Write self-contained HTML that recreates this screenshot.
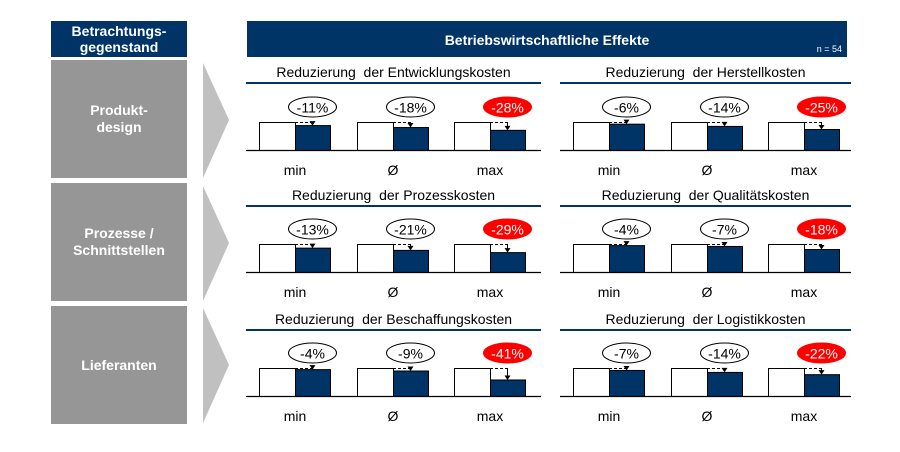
<!DOCTYPE html>
<html><head><meta charset="utf-8"><style>
html,body{margin:0;padding:0;background:#fff;}
svg{display:block;font-family:"Liberation Sans",Arial,sans-serif;}
text{white-space:pre;}
</style></head><body>
<svg width="900" height="452" viewBox="0 0 900 452">
<rect x="51" y="21" width="136" height="36" fill="#003366"/>
<text x="119" y="36" fill="#fff" font-size="14" font-weight="bold" text-anchor="middle">Betrachtungs-</text>
<text x="119" y="52" fill="#fff" font-size="14" font-weight="bold" text-anchor="middle">gegenstand</text>
<rect x="51" y="60" width="136" height="118" fill="#969696"/>
<rect x="51" y="183" width="136" height="118" fill="#969696"/>
<rect x="51" y="306" width="136" height="118" fill="#969696"/>
<text x="119" y="115" fill="#fff" font-size="14" font-weight="bold" text-anchor="middle">Produkt-</text>
<text x="119" y="132" fill="#fff" font-size="14" font-weight="bold" text-anchor="middle">design</text>
<text x="119" y="238" fill="#fff" font-size="14" font-weight="bold" text-anchor="middle">Prozesse /</text>
<text x="119" y="255" fill="#fff" font-size="14" font-weight="bold" text-anchor="middle">Schnittstellen</text>
<text x="119" y="370" fill="#fff" font-size="14" font-weight="bold" text-anchor="middle">Lieferanten</text>
<polygon points="203,63 229,120 203,178" fill="#c0c0c0"/>
<polygon points="203,186 229,243 203,301" fill="#c0c0c0"/>
<polygon points="203,308 229,365 203,423" fill="#c0c0c0"/>
<rect x="247" y="21" width="600" height="36" fill="#003366"/>
<text x="547" y="45" fill="#fff" font-size="14" font-weight="bold" text-anchor="middle">Betriebswirtschaftliche Effekte</text>
<text x="842" y="52" fill="#fff" font-size="9" text-anchor="end">n = 54</text>
<g id="charts"></g>
</svg>
<script>
var S="http://www.w3.org/2000/svg",g=document.getElementById("charts");
function el(t,a,txt){var e=document.createElementNS(S,t);for(var k in a)e.setAttribute(k,a[k]);if(txt!==undefined)e.textContent=txt;g.appendChild(e);return e;}
var rows=[{ty:72,ly:83,b:150},{ty:195,ly:206,b:272},{ty:319,ly:330,b:396}];
var panels=[{x0:246,x1:541,wx:[259,357,454],wb:36,bw:35},{x0:560,x1:851,wx:[573,671,768],wb:36,bw:35}];
var titles=[["Reduzierung  der Entwicklungskosten","Reduzierung  der Herstellkosten"],["Reduzierung  der Prozesskosten","Reduzierung  der Qualitätskosten"],["Reduzierung  der Beschaffungskosten","Reduzierung  der Logistikkosten"]];
var vals=[[[11,18,28],[6,14,25]],[[13,21,29],[4,7,18]],[[4,9,41],[7,14,22]]];
var labs=["min","Ø","max"];
rows.forEach(function(r,ri){panels.forEach(function(p,pi){
 el("text",{x:(p.x0+p.x1)/2,y:r.ty+5,"font-size":"14","text-anchor":"middle",fill:"#000"},titles[ri][pi]);
 el("line",{x1:p.x0,x2:p.x1,y1:r.ly,y2:r.ly,stroke:"#003366","stroke-width":"2"});
 var top=r.b-28;
 for(var i=0;i<3;i++){
  var wx=p.wx[i],bx=wx+p.wb,v=vals[ri][pi][i],h=28*(1-v/100),bt=r.b-h,cx=bx+p.bw/2;
  el("rect",{x:wx+0.5,y:top+0.5,width:p.wb,height:28,fill:"#fff",stroke:"#000","stroke-width":"1"});
  el("rect",{x:bx+0.5,y:bt+0.5,width:p.bw,height:h,fill:"#003366",stroke:"#000","stroke-width":"1"});
  el("line",{x1:bx,x2:cx,y1:top+0.5,y2:top+0.5,stroke:"#000","stroke-width":"1","stroke-dasharray":"3,2"});
  if(bt-top>4){el("line",{x1:cx,x2:cx,y1:top,y2:bt-3,stroke:"#000","stroke-width":"1"});}
  el("polygon",{points:(cx-3)+","+(bt-4)+" "+(cx+3)+","+(bt-4)+" "+cx+","+(bt+0.5),fill:"#000"});
  var ey=r.b-43,red=(i==2);
  el("ellipse",{cx:cx,cy:ey,rx:24,ry:10,fill:red?"#ff0000":"#fff",stroke:red?"#ff0000":"#000","stroke-width":"1"});
  el("text",{x:cx,y:ey+5.5,"font-size":"14","text-anchor":"middle",fill:red?"#fff":"#000"},"-"+v+"%");
  el("text",{x:bx,y:r.b+25,"font-size":"14","text-anchor":"middle",fill:"#000"},labs[i]);
 }
 el("line",{x1:p.x0,x2:p.x1,y1:r.b+0.5,y2:r.b+0.5,stroke:"#000","stroke-width":"1.2"});
});});
</script>
</body></html>
